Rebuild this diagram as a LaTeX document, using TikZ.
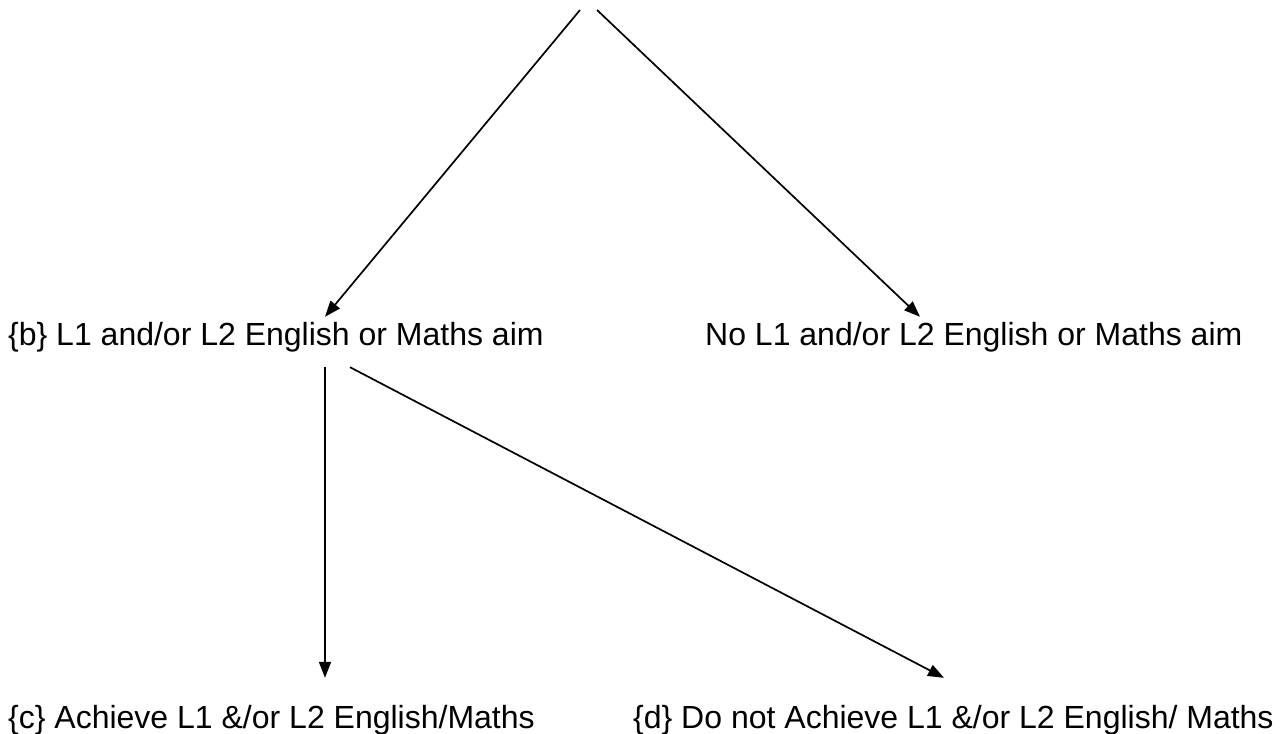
\documentclass[tikz,border=0pt]{standalone}
\usepackage{fontspec}
\setmainfont{Liberation Sans}
\usetikzlibrary{arrows.meta}

\begin{document}
\begin{tikzpicture}[
  x=1pt, y=-1pt,
  >={Triangle[length=16pt, width=12pt]},
  every node/.style={font=\fontsize{32}{38}\selectfont},
  lbl/.style={anchor=base west, inner sep=0pt, text height=28pt, text depth=22pt},
  goal/.style={lbl, text height=50pt},
  link/.style={->, line width=1.7pt},
]
  \useasboundingbox (0,0) rectangle (1281,733);

  \node[lbl]  (aim)    at (8,345)   {\{b\} L1 and/or L2 English or Maths aim};
  \node[lbl]  (noaim)  at (705,345) {No L1 and/or L2 English or Maths aim};
  \node[goal] (ach)    at (8,728)   {\{c\} Achieve L1 \&/or L2 English/Maths};
  \node[goal] (notach) at (633,728) {\{d\} Do not Achieve L1 \&/or L2 English/ Maths};

  % lines come down from above the crop
  \coordinate (topl) at (580,10);
  \coordinate (topr) at (597,10);

  \draw[link] (topl) -- ([xshift=317pt]aim.north west);
  \draw[link] (topr) -- ([xshift=215pt]noaim.north west);
  \draw[link] ([xshift=317pt]aim.south west) -- ([xshift=317pt]ach.north west);
  \draw[link] ([xshift=342pt]aim.south west) -- ([xshift=311pt]notach.north west);
\end{tikzpicture}
\end{document}
